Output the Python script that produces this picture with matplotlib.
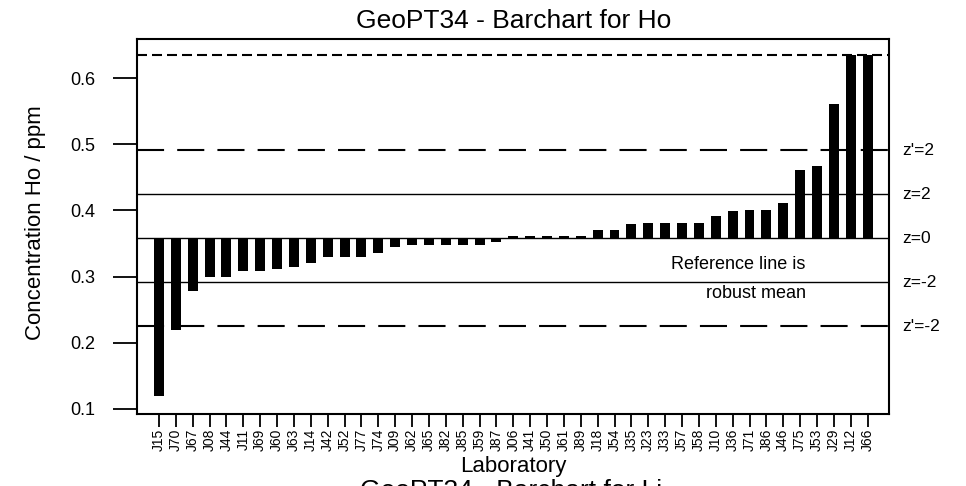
import numpy as np
import matplotlib
matplotlib.use("Agg")
import matplotlib.pyplot as plt

plt.rcParams['font.family'] = ['Liberation Sans', 'DejaVu Sans']

# Laboratories, sorted by reported value
labs = ['J15', 'J70', 'J67', 'J08', 'J44', 'J11', 'J69', 'J60', 'J63', 'J14',
        'J42', 'J52', 'J77', 'J74', 'J09', 'J62', 'J65', 'J82', 'J85', 'J59',
        'J87', 'J06', 'J41', 'J50', 'J61', 'J89', 'J18', 'J54', 'J35', 'J23',
        'J33', 'J57', 'J58', 'J10', 'J36', 'J71', 'J86', 'J46', 'J75', 'J53',
        'J29', 'J12', 'J66']
# Ho concentration / ppm (J12, J66 are off-scale and clipped at the top line)
values = [0.120, 0.219, 0.279, 0.299, 0.299, 0.309, 0.309, 0.312, 0.314, 0.321,
          0.329, 0.329, 0.329, 0.335, 0.344, 0.348, 0.348, 0.348, 0.348, 0.348,
          0.352, 0.361, 0.361, 0.361, 0.361, 0.361, 0.370, 0.370, 0.379, 0.381,
          0.381, 0.381, 0.381, 0.392, 0.399, 0.401, 0.401, 0.411, 0.461, 0.467,
          0.561, 0.635, 0.635]

robust_mean = 0.358
sigma = 0.0333       # z-score sd
sigma_p = 0.0666     # z'-score sd
upper_clip = 0.635

y_ticks = [0.1, 0.2, 0.3, 0.4, 0.5, 0.6]

fig = plt.figure(figsize=(9.66, 4.86), dpi=100)
ax = fig.add_axes([0.1421, 0.1481, 0.7785, 0.7717])

x = np.arange(len(labs))
vals = np.minimum(np.array(values), upper_clip)
ax.bar(x, vals - robust_mean, bottom=robust_mean, width=0.59, color='black',
       linewidth=0, zorder=3)

# reference lines
ax.axhline(robust_mean, color='black', lw=1.0, zorder=2)
ax.axhline(robust_mean + 2 * sigma, color='black', lw=1.0, zorder=2)
ax.axhline(robust_mean - 2 * sigma, color='black', lw=1.0, zorder=2)
ax.axhline(robust_mean + 2 * sigma_p, color='black', lw=1.5,
           linestyle=(0, (13, 6.3)), zorder=2)
ax.axhline(robust_mean - 2 * sigma_p, color='black', lw=1.5,
           linestyle=(0, (13, 6.3)), zorder=2)
ax.axhline(upper_clip, color='black', lw=1.5, linestyle=(0, (4.8, 2.4)), zorder=2)

# z labels on the right
ytr = ax.get_yaxis_transform()
zlabels = [("z'=2", robust_mean + 2 * sigma_p), ("z=2", robust_mean + 2 * sigma),
           ("z=0", robust_mean), ("z=-2", robust_mean - 2 * sigma),
           ("z'=-2", robust_mean - 2 * sigma_p)]
for txt, yv in zlabels:
    ax.text(1.0169, yv, txt, transform=ytr, ha='left', va='center',
            fontsize=12.5, clip_on=False)

ax.text(0.889, 0.3177, "Reference line is", transform=ytr, ha='right',
        va='center', fontsize=13)
ax.text(0.889, 0.275, "robust mean", transform=ytr, ha='right',
        va='center', fontsize=13)

ax.set_xlim(-1.285, len(labs) - 1 + 1.285)
ax.set_ylim(0.0924, 0.659)

ax.set_xticks(x)
ax.set_xticklabels(labs, rotation=90, fontsize=10)
ax.set_yticks(y_ticks)
ax.set_yticklabels([f"{v:.1f}" for v in y_ticks], fontsize=13)
ax.tick_params(axis='x', length=9, width=1.3, pad=1.5, direction='out')
ax.tick_params(axis='y', length=17.5, width=1.3, pad=13, direction='out')

for sp in ax.spines.values():
    sp.set_linewidth(1.5)

ax.set_title("GeoPT34 - Barchart for Ho", fontsize=19, pad=8)
fig.text(513 / 966, (486 - 471.7) / 486, "Laboratory", ha='center',
         va='baseline', fontsize=16)
fig.text(41.5 / 966, (486 - 222.5) / 486, "Concentration Ho / ppm",
         rotation=90, rotation_mode='anchor', ha='center', va='baseline',
         fontsize=16)
# next chart's title, cut off at the bottom edge
fig.text(511 / 966, (486 - 498) / 486, "GeoPT34 - Barchart for Li",
         ha='center', va='baseline', fontsize=19)

fig.savefig("out.png", dpi=100)
